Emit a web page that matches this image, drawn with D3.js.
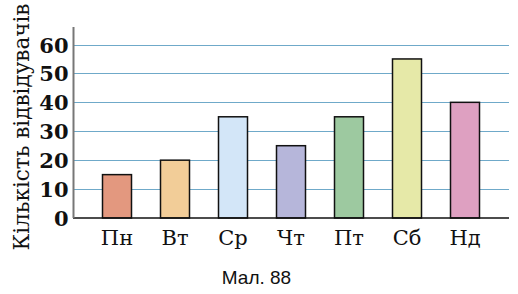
<!DOCTYPE html>
<html><head><meta charset="utf-8">
<script src="https://cdn.jsdelivr.net/npm/d3@7"></script>
<style>body{margin:0;background:#fff}svg{display:block}</style>
</head><body>
<svg id="c" width="518" height="294"></svg>
<script>
const days = ["Пн","Вт","Ср","Чт","Пт","Сб","Нд"];
const visitors = [15,20,35,25,35,55,40];
const barColors = ["#e3987f","#f2cd98","#d3e6f8","#b6b6da","#9dc9a0","#e6e9a8","#dea0c1"];
const yTicks = [0,10,20,30,40,50,60];
const yTitle = "Кількість відвідувачів";
const caption = "Мал. 88";

const svg = d3.select("#c");
const x = d3.scaleBand().domain(days).range([73.5,508.5]).paddingInner(0.5).paddingOuter(0.5);
const y = d3.scaleLinear().domain([0,60]).range([218,44.5]);

svg.append("g").selectAll("line").data(yTicks.filter(d=>d>0)).join("line")
  .attr("x1",74).attr("x2",509).attr("y1",d=>Math.round(y(d))+0.5).attr("y2",d=>Math.round(y(d))+0.5)
  .attr("stroke","#6fa9c9").attr("stroke-width",1.2);

svg.append("g").selectAll("rect").data(days).join("rect")
  .attr("x",d=>x(d)).attr("width",x.bandwidth())
  .attr("y",(d,i)=>y(visitors[i])).attr("height",(d,i)=>y(0)-y(visitors[i]))
  .attr("fill",(d,i)=>barColors[i]).attr("stroke","#111").attr("stroke-width",1.5);

const xa = svg.append("g").attr("transform","translate(0,218)")
  .call(d3.axisBottom(x).tickSize(0).tickPadding(12));
xa.select(".domain").attr("d","M73,0H509").attr("stroke","#111").attr("stroke-width",1.6);
xa.selectAll("text").attr("font-family","DejaVu Serif").attr("font-size",21).attr("fill","#111");

const ya = svg.append("g").attr("transform","translate(73.5,0)")
  .call(d3.axisLeft(y).tickValues(yTicks).tickSize(0).tickPadding(5));
ya.select(".domain").attr("d","M0,27V218").attr("stroke","#777").attr("stroke-width",2);
ya.selectAll("text").attr("font-family","DejaVu Serif").attr("font-weight","bold")
  .attr("font-size",21).attr("fill","#111").attr("dy","0.36em");

svg.append("text").attr("transform","translate(29,127) rotate(-90)")
  .attr("text-anchor","middle").attr("font-family","DejaVu Serif").attr("font-size",21.5)
  .attr("fill","#111").text(yTitle);

svg.append("text").attr("x",256.5).attr("y",284).attr("text-anchor","middle")
  .attr("font-family","Liberation Sans").attr("font-size",19).attr("fill","#111").text(caption);
</script>
</body></html>
